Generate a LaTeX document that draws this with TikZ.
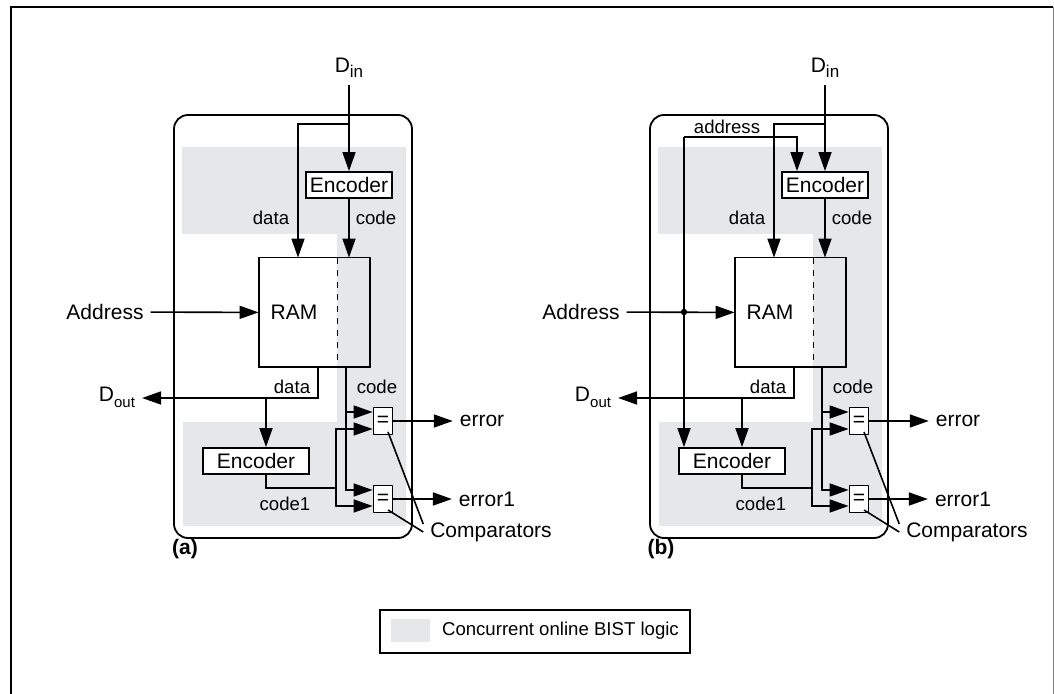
\documentclass[tikz,border=0pt]{standalone}
\usepackage{fontspec}
\setmainfont{Liberation Sans}
\usetikzlibrary{arrows.meta}

\definecolor{bistgray}{RGB}{230,231,232}

\newcommand{\subin}[1]{\raisebox{-0.45ex}{\fontsize{8.5}{9}\selectfont #1}}
\newcommand{\subout}[1]{\raisebox{-0.55ex}{\fontsize{7.5}{8}\selectfont #1}}

\tikzset{
  wire/.style={line width=0.8pt},
  arr/.style={wire, -{Triangle[length=9.5pt,width=6.5pt]}},
  encbox/.style={draw, fill=white, line width=0.9pt, inner sep=2pt, minimum height=13pt},
  cmpbox/.style={draw, fill=white, line width=0.9pt, inner sep=0pt,
    minimum width=9.5pt, minimum height=13.5pt},
  sml/.style={font=\fontsize{9.3}{11}\selectfont},
}

\begin{document}
\begin{tikzpicture}[x=0.5pt, y=-0.5pt, font=\fontsize{10.5}{12.5}\selectfont]
    \useasboundingbox (0,0) rectangle (1054,694);

    % Page frame
    \draw[line width=1pt]
      (11,694) -- (11,7) -- (1053,7);
    \draw[gray, line width=0.5pt]
      (1053,7) -- (1053,694);

    \foreach \dx/\p in {0/a, 476/b} {
      \begin{scope}[shift={(\dx,0)}]
        % BIST logic area
        \fill[bistgray]
          (182,147) -- (406,147) -- (406,526) -- (183,526) -- (183,422)
          -- (337,422) -- (337,234) -- (182,234) -- cycle;
        % Memory block
        \draw[rounded corners=7pt, line width=0.9pt]
          (174,115) rectangle (412,538);

        % Blocks
        \node (din\p) at (349,68) {D\subin{in}};
        \node[encbox] (enct\p) at (349,185) {Encoder};
        \node[minimum width=39pt, minimum height=54.5pt] (ram\p) at (298,312.5) {};
        \node (raml\p) at (294,312) {RAM};
        \node[minimum width=16pt, minimum height=54.5pt, inner sep=0pt, anchor=west]
          (ramc\p) at (ram\p.east) {};
        \draw[line width=0.9pt]
          (ram\p.north west) rectangle (ramc\p.south east);
        \draw[dashed, line width=0.75pt]
          (ram\p.north east) -- (ram\p.south east);
        \node[encbox, minimum width=53pt] (encl\p) at (256,461) {Encoder};
        \node[cmpbox] (cmpa\p) at (383,421) {=};
        \node[cmpbox] (cmpb\p) at (383,499) {=};
        \node (addr\p) at (105,312) {Address};
        \node (dout\p) at (117,397) {D\subout{out}};
        \node (erra\p) at (482,421) {error};
        \node (errb\p) at (487,499) {error1};
        \node (cmpl\p) at (491,532) {Comparators};
        \node[font=\fontsize{10.5}{12.5}\selectfont\bfseries] (tag\p) at (185,549) {(\p)};

        % Signal names
        \node[sml] (lbdt\p) at (271,218) {data};
        \node[sml] (lbct\p) at (376,218) {code};
        \node[sml] (lbdb\p) at (292,387) {data};
        \node[sml] (lbcb\p) at (377,387) {code};
        \node[sml] (lbc1\p) at (285,504) {code1};

        % Write path
        \coordinate (spl\p) at (349,124);
        \draw[arr] (din\p) -- (enct\p);
        \draw[arr] (spl\p) -| (ram\p);
        \draw[arr] (enct\p) -- (enct\p |- ram\p.north);
        \draw[arr] (addr\p) -- (ram\p);

        % Read path
        \coordinate (dob\p) at (318,367);
        \coordinate (dbr\p) at (266,398);
        \draw[arr] (dob\p) |- ([yshift=-0.5pt]dout\p.east);
        \draw[arr] (dbr\p) -- (dbr\p |- encl\p.north);

        % Stored code
        \coordinate (cdb\p) at (346,367);
        \coordinate (cia\p) at ([yshift=4.5pt]cmpa\p.west);
        \draw[arr] (cdb\p) |- ([yshift=4.5pt]cmpb\p.west);
        \draw[arr] (cdb\p |- cia\p) -- (cia\p);

        % Recomputed code
        \coordinate (c1s\p) at ([xshift=5pt]encl\p.south);
        \coordinate (c1j\p) at (336,488);
        \draw[wire] (c1s\p) |- (c1j\p);
        \draw[arr] (c1j\p) |- ([yshift=-4pt]cmpa\p.west);
        \draw[arr] (c1j\p) |- ([yshift=-3.5pt]cmpb\p.west);

        % Outputs
        \draw[arr] (cmpa\p) -- (erra\p);
        \draw[arr] (cmpb\p) -- (errb\p);
        \draw[wire] ([yshift=4pt]cmpl\p.west) -- ([xshift=2.5pt,yshift=-5.5pt]cmpa\p.center);
        \draw[wire] (cmpl\p.west) -- ([xshift=2.5pt,yshift=-5.5pt]cmpb\p.center);
      \end{scope}
    }

    % Address into the top encoder of (b)
    \coordinate (adrj) at (684,312);
    \coordinate (adrt) at (684,137);
    \fill (adrj) circle (1.6pt);
    \draw[arr] (adrt) -- (adrt |- enclb.north);
    \draw[arr] (adrt) -| ([xshift=-14pt]enctb.north);
    \node[sml] (lbadr) at (727,127) {address};

    % Legend
    \node[draw, line width=0.6pt, minimum width=155pt, minimum height=21.5pt] (legend) at (535,631.5) {};
    \fill[bistgray] (391,619) rectangle (430,642);
    \node[sml, anchor=west] (legtxt) at (435,631) {Concurrent online BIST logic};
  \end{tikzpicture}
\end{document}
